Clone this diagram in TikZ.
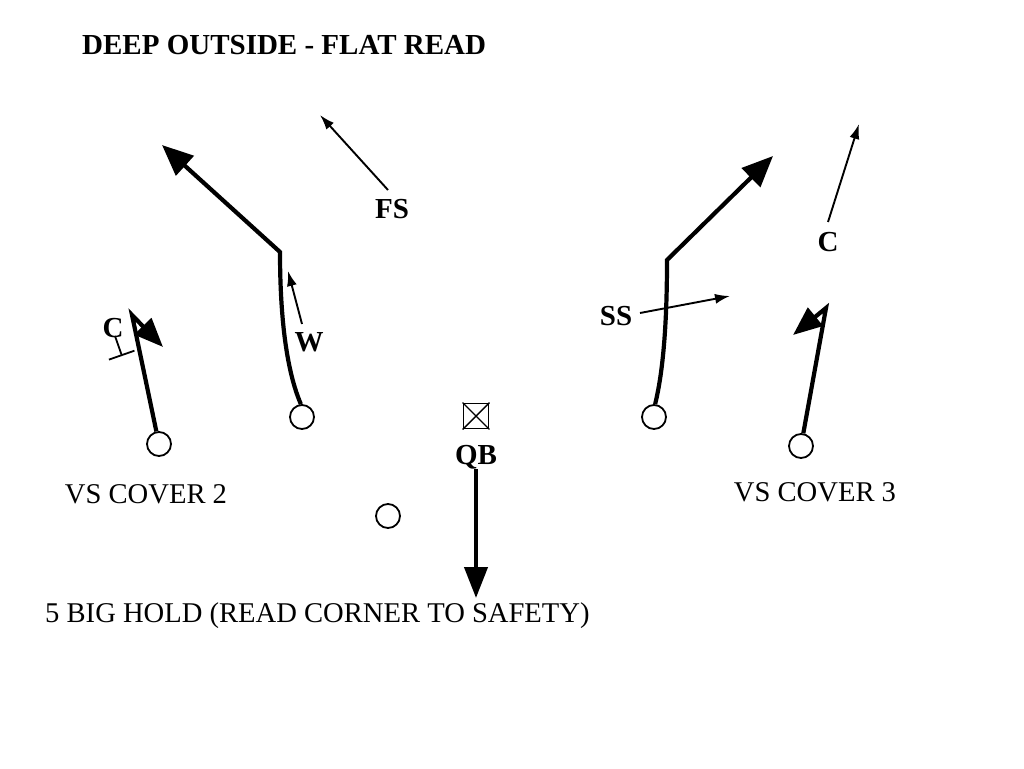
\documentclass[tikz,border=0pt]{standalone}
\usepackage{fontspec}
\setmainfont{Liberation Serif}
\usetikzlibrary{arrows.meta}
\begin{document}
\begin{tikzpicture}[x=1pt,y=-1pt,
  player/.style={circle,draw,line width=1.8pt,minimum size=24pt,inner sep=0pt},
  route/.style={line width=4.2pt,line join=miter},
  bighead/.style={-{Triangle[length=31pt,width=26pt]}},
  hookhead/.style={-{Triangle[length=29pt,width=23pt]}},
  thinarrow/.style={line width=1.9pt,-{Latex[length=15pt,width=10pt]}},
  lbl/.style={font=\fontsize{29}{31}\selectfont\bfseries,inner sep=0pt},
  txt/.style={font=\fontsize{28.6}{31}\selectfont,inner sep=0pt}]
\useasboundingbox[fill=white] (0,0) rectangle (1024,768);

% title and texts
\node[lbl,anchor=base west] (title) at (82,55) {DEEP OUTSIDE - FLAT READ};
\node[txt,anchor=base] (cov2) at (146,503) {VS COVER 2};
\node[txt,anchor=base] (cov3) at (815,501) {VS COVER 3};
\node[txt,anchor=base west] (hold) at (45,622) {5 BIG HOLD (READ CORNER TO SAFETY)};

% players
\node[player] (r1) at (159,444) {};
\node[player] (r2) at (302,417) {};
\node[player] (rb) at (388,516) {};
\node[player] (r3) at (654,417) {};
\node[player] (r4) at (801,446) {};
\node[draw,line width=1.8pt,minimum size=25pt,inner sep=0pt] (qbbox) at (476,416) {};
\draw[line width=1.4pt] (qbbox.north west) -- (qbbox.south east)
                        (qbbox.north east) -- (qbbox.south west);

% labels
\node[lbl,anchor=base] (qb) at (476,464) {QB};
\node[lbl,anchor=base] (fs) at (392,218) {FS};
\node[lbl,anchor=base] (w) at (309,351) {W};
\node[lbl,anchor=base] (cl) at (113,337) {C};
\node[lbl,anchor=base] (ss) at (616,325) {SS};
\node[lbl,anchor=base] (cr) at (828,251) {C};

% route points
\coordinate (r1top) at (132,315);
\coordinate (r1end) at (163,347);
\coordinate (r2brk) at (280,252);
\coordinate (r2end) at (162,145);
\coordinate (r3brk) at (667,260);
\coordinate (r3end) at (773,156);
\coordinate (r4top) at (826,308);
\coordinate (r4end) at (793,335);
\coordinate (qbend) at (476,598);

% routes
\draw[route,hookhead] (r1) -- (r1top) -- (r1end);
\draw[route,bighead] (r2.95) .. controls (287,372) and (280,320) .. (r2brk) -- (r2end);
\draw[route,bighead] (r3.85) .. controls (663,372) and (667,325) .. (r3brk) -- (r3end);
\draw[route,hookhead] (r4) -- (r4top) -- (r4end);
\draw[route,-{Triangle[length=31pt,width=23pt]}] (qb.south) -- (qbend);

% defenders
\coordinate (clA) at (115,336);
\coordinate (clB) at (122,356);
\draw[line width=1.8pt,-{Bar[width=27pt,line width=1.8pt]}] (clA) -- (clB);

\coordinate (wA) at (302,324);
\coordinate (wB) at (288,271);
\draw[thinarrow] (wA) -- (wB);

\coordinate (fsA) at (388,190);
\coordinate (fsB) at (320,115);
\draw[thinarrow] (fsA) -- (fsB);

\coordinate (ssA) at (640,313);
\coordinate (ssB) at (730,296);
\draw[thinarrow] (ssA) -- (ssB);

\coordinate (crA) at (828,222);
\coordinate (crB) at (859,124);
\draw[thinarrow] (crA) -- (crB);
\end{tikzpicture}
\end{document}
